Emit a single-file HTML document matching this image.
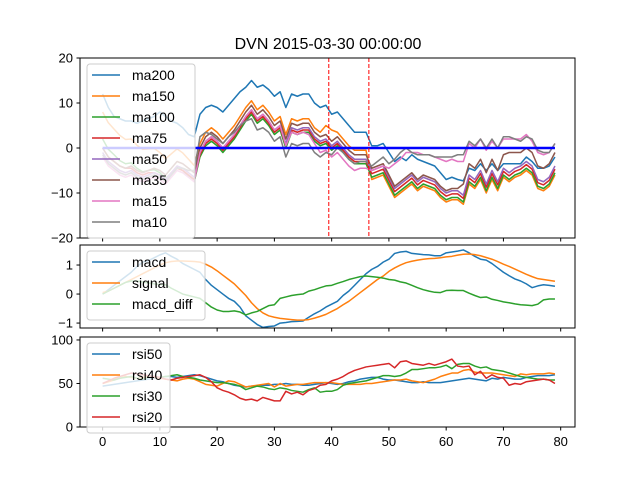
<!DOCTYPE html>
<html><head><meta charset="utf-8"><style>
body{margin:0;background:#fff;}
svg{display:block;font-family:"Liberation Sans","DejaVu Sans",sans-serif;}
</style></head><body>
<svg id="chart" width="640" height="480" viewBox="0 0 640 480" xmlns="http://www.w3.org/2000/svg">
<rect width="640" height="480" fill="#fff"/>
<text x="328" y="49" text-anchor="middle" font-size="16">DVN 2015-03-30 00:00:00</text>
</svg>
<script>
const xs = Array.from({length:80},(_, i)=>i);
const ma200=[12,9,7,6.5,6,6,5.5,6,6.5,7,8,7,6,5.5,4.5,3,2.5,7.5,9,9.5,9,8,9.5,11,12.5,13.5,15,13.5,14,13,11.5,12.5,9,12,11.5,12,12,10,9,9.5,7.5,8,6.5,5,3.5,3.5,3.5,0.5,0.5,1,-1,-3,-2,-2.8,-1.5,-2.5,-3,-3.5,-4,-5.5,-7,-6.5,-7,-7.3,-4.5,-5,-3.5,-5,-3.5,-5,-3.5,-3.5,-3.5,-3.5,-2,-3,-4.5,-4.5,-4,-2];
const ma150=[8,5.6,4.2,2.8,1.9,2,0.6,-0.3,-0.2,-0.1,-1,-2.4,-1.3,-0.2,-1.1,-2.5,-3.9,1,3.5,4.5,3.5,2,3.5,5,7,9,10.5,8.5,9.5,8,6,7,3,6.5,6,6.5,6.5,4.5,3.5,5,4,3.5,2,0.5,-0.5,-0.5,-0.5,-7,-6.5,-6,-8.5,-11,-10,-9,-8,-9.5,-8.5,-9,-9.5,-11,-12,-11.5,-11.5,-12.5,-8,-9,-7,-10,-7,-9.5,-6.5,-7.5,-6.5,-6,-5,-6,-9,-9.5,-8.5,-6];
const ma100=[2,-0.3,-1.5,-2.8,-3.5,-3.3,-4.5,-5.3,-5,-4.8,-5.5,-6.8,-5.5,-4.3,-5,-6.3,-7.5,-2,0.5,1.5,0.5,-1,0.5,2,4,6,7.5,5.5,6.5,5,3,4,0,3.5,3,3.5,3.5,1.5,0.5,1,-0.5,0.5,-1,-2.5,-3.5,-3.5,-3.5,-6.5,-6,-5.5,-8,-10.5,-9.5,-8.5,-7.5,-9,-8,-8.5,-9,-10.5,-11.5,-11,-11,-12,-7.5,-8.5,-6.5,-9.5,-6.5,-9,-6,-7,-6,-5.5,-4.5,-5.5,-8.5,-9,-8,-5.5];
const ma75=[0,-2,-3,-4,-4.5,-4.5,-5.5,-6,-5.5,-5.5,-6,-7,-5.5,-4.5,-5,-6,-7,-1.5,1,2,1,-0.5,1,2.5,4.5,6.5,8,6,7,5.5,3.5,4.5,0.5,4,3.5,4,4,2,1,1.5,0,1,-0.5,-2,-3,-3,-3,-5.7,-5.2,-4.7,-7.2,-9.7,-8.7,-7.7,-6.7,-8.2,-7.2,-7.7,-8.2,-9.7,-10.7,-10.2,-10.2,-11.2,-6.7,-7.7,-5.7,-8.7,-5.7,-8.2,-5.2,-6.2,-5.2,-4.7,-3.7,-4.7,-7.7,-8.2,-7.2,-4.7];
const ma50=[-1,-3,-4,-5,-5.5,-5,-6,-6.5,-6,-5.5,-6,-7,-5.5,-4,-4.5,-5.5,-6.5,-1,1.5,2.5,1.5,0,1.5,3,5,7,8.5,6.5,7.5,6,4,5,1,4.5,4,4.5,4.5,2.5,1.5,2,0.5,1.5,0,-1.5,-2.5,-2.5,-2.5,-5,-4.5,-4,-6.5,-9,-8,-7,-6,-7.5,-6.5,-7,-7.5,-9,-10,-9.5,-9.5,-10.5,-6,-7,-5,-8,-5,-7.5,-4.5,-5.5,-4.5,-4,-3,-4,-7,-7.5,-6.5,-4];
const ma35=[0,-2,-3,-4,-4.5,-4,-5,-5.5,-5,-4.5,-5,-6,-4.5,-3,-3.5,-4.5,-5.5,0,2.5,3.5,2.5,1,2.5,4,6,8,9.5,7.5,8.5,7,5,6,2,5.5,5,5.5,5.5,3.5,2.5,3,1.5,2.5,1,-0.5,-1.5,-1.5,-1.5,-4.5,-4,-3.5,-6,-8.5,-7.5,-6.5,-5.5,-7,-6,-6.5,-7,-8.5,-9.5,-9,-9,-8,-3.5,-4.5,-2.5,-5.5,-2.5,-5,-1.5,-1,-1,-1,0,-1,-4,-4.5,-3.5,-1];
const ma15=[-2,-4,-5,-6,-6.5,-6,-7,-7.5,-7,-6.5,-7,-8,-6.5,-5,-5.5,-6.5,-7.5,-1,1.5,2.5,1.5,0,1.5,3,5,7,8.5,6.5,7.5,6,4,5,0.5,3.5,3,3.5,3,1,-1,-0.5,-2,-1,-2.5,-4,-5,-4.5,-4.5,-5,-4.5,-4,-4.5,-3.5,-2.5,-1,-1,-1,-1.5,-1.5,-2,-2.5,-3,-2.5,-3,-3,1,0,2,-0.5,1.5,0,2,2,2,2,3,1.5,-1,-1.5,-1,1];
const ma10=[-1.5,-3.5,-4.5,-5.5,-6,-5.5,-6.5,-7,-6.5,-6,-6.5,-7.5,-6,-4.5,-4.5,-5,-5,2.5,3.5,3,2,1,2.5,3.5,5,6,6.5,4,4.5,3.5,1.5,2.5,-2,1,0.5,1,1,-1,-2,-1,-1.5,0,-1,-2.5,-3.5,-3,-3,-4,-3,-2,-3.5,-2.5,-1,0,-1,-1.5,-1.5,-1.5,-2,-2,-2,-2,-1.5,-1.5,1.5,0.5,2,0,2,0,2.5,2.5,2,1.5,2.5,2,-0.5,-1,-1,1];
const zeroLine=[0,0];
const vlines=[39.5,46.5];
const macd=[0,0.15,0.3,0.45,0.6,0.75,0.95,1.1,1.15,1.25,1.35,1.42,1.3,1.2,1.05,0.95,0.85,0.75,0.5,0.3,0.15,0,-0.15,-0.25,-0.45,-0.75,-0.9,-1.05,-1.15,-1.12,-1.1,-1,-0.98,-0.95,-0.94,-0.93,-0.8,-0.68,-0.58,-0.45,-0.35,-0.25,-0.05,0.1,0.3,0.5,0.7,0.85,0.95,1.1,1.2,1.4,1.45,1.47,1.4,1.38,1.36,1.35,1.32,1.32,1.42,1.45,1.48,1.52,1.42,1.3,1.2,1.17,1.05,0.9,0.75,0.63,0.52,0.45,0.35,0.22,0.28,0.32,0.3,0.27];
const signal=[0.05,0.1,0.2,0.3,0.4,0.5,0.6,0.7,0.8,0.9,1,1.08,1.12,1.14,1.14,1.13,1.12,1.1,1.03,0.93,0.8,0.65,0.5,0.35,0.15,-0.05,-0.3,-0.5,-0.65,-0.75,-0.8,-0.84,-0.86,-0.88,-0.9,-0.9,-0.88,-0.83,-0.77,-0.7,-0.6,-0.5,-0.37,-0.25,-0.1,0.05,0.2,0.35,0.5,0.62,0.78,0.9,1,1.08,1.13,1.17,1.2,1.22,1.23,1.25,1.28,1.3,1.34,1.37,1.38,1.36,1.32,1.26,1.2,1.12,1.03,0.95,0.86,0.77,0.68,0.6,0.53,0.5,0.47,0.44];
const macdDiff=[0,0.1,0.2,0.3,0.4,0.45,0.45,0.42,0.38,0.35,0.33,0.32,0.2,0.1,0,-0.05,-0.1,-0.15,-0.3,-0.45,-0.55,-0.6,-0.6,-0.58,-0.62,-0.72,-0.65,-0.6,-0.5,-0.4,-0.37,-0.15,-0.1,-0.05,-0.02,0,0.1,0.15,0.22,0.28,0.3,0.37,0.43,0.5,0.55,0.6,0.62,0.6,0.58,0.55,0.5,0.48,0.42,0.38,0.3,0.22,0.15,0.1,0.06,0.05,0.12,0.13,0.12,0.12,0.03,-0.05,-0.12,-0.1,-0.18,-0.22,-0.27,-0.3,-0.34,-0.37,-0.38,-0.4,-0.35,-0.2,-0.17,-0.17];
const rsi50=[47,48,49,50,51,52,53,54,55,56,57,58,58,57,58,59,60,59,57,55,53,52,50,48,47,46,47,47,48,48,49,49,50,49,49,48,48,49,50,51,50,49,50,52,53,55,56,57,57,55,54,54,53,52,51,51,52,51,51,51,52,53,54,55,56,55,54,53,56,55,57,56,55,55,57,58,59,59,59,60];
const rsi40=[50,52,54,56,58,57,56,57,58,57,56,55,54,53,55,56,55,52,49,48,47,50,53,52,49,46,47,48,49,50,46,50,47,48,49,49,50,51,51,51,51,50,49,49,49,49,50,50,51,52,53,54,54,55,53,52,51,53,55,58,60,62,62,65,66,63,62,62,62,61,60,59,58,61,60,61,61,61,62,61];
const rsi30=[56,55,54,56,57,58,56,55,57,58,57,58,59,60,58,57,56,54,53,52,51,51,50,49,47,43,45,47,46,44,43,45,44,42,41,40,43,45,40,41,41,43,48,50,51,52,53,55,57,59,59,58,59,62,66,66,67,68,68,69,71,67,72,73,73,70,68,69,66,65,64,62,60,58,57,56,55,55,54,54];
const rsi20=[50,53,56,58,60,62,61,60,59,58,57,55,54,56,57,58,59,60,57,52,45,42,40,37,33,31,32,30,34,32,30,30,41,38,40,37,42,44,48,49,53,55,58,62,65,67,69,70,71,72,73,68,75,76,73,72,71,73,71,73,75,78,70,69,70,60,64,56,60,57,56,48,50,49,52,53,54,55,54,50];
const xTicks=[0,10,20,30,40,50,60,70,80];
const topTicks=[-20,-10,0,10,20];
const macdTicks=[-1,0,1];
const rsiTicks=[0,50,100];

const NS='http://www.w3.org/2000/svg';
const svg=document.getElementById('chart');
function el(tag,attrs,parent){const e=document.createElementNS(NS,tag);for(const k in attrs)e.setAttribute(k,attrs[k]);(parent||svg).appendChild(e);return e;}
const X0=80,X1=575,XMIN=-3.95,XMAX=82.5;
function xs2px(v){return X0+(v-XMIN)/(XMAX-XMIN)*(X1-X0);}

function panel(name,top,bot,ymin,ymax,ticks,series,legend,showX){
  const g=el('g',{});
  
  
  const y=v=>bot-(v-ymin)/(ymax-ymin)*(bot-top);
  const clip=el('clipPath',{id:'clip-'+name},g);
  el('rect',{x:X0,y:top,width:X1-X0,height:bot-top},clip);
  const plot=el('g',{'clip-path':'url(#clip-'+name+')'},g);
  series.forEach(s=>{
    const xv=s.x||xs;
    const d=s.data.map((v,i)=>(i?'L':'M')+xs2px(xv[i]).toFixed(2)+','+y(v).toFixed(2)).join('');
    const p=el('path',{d:d,fill:'none',stroke:s.color,'stroke-width':s.w||1.5,'stroke-linejoin':'round'},plot);
    
    
  });
  (legend.extra||[]).forEach(f=>f(plot,y));
  el('rect',{x:X0,y:top,width:X1-X0,height:bot-top,fill:'none',stroke:'#000','stroke-width':1},g);
  ticks.forEach(t=>{
    const ty=y(t);
    el('line',{x1:X0-3.5,x2:X0,y1:ty,y2:ty,stroke:'#000'},g);
    const tx=el('text',{x:X0-7,y:ty+4.5,'text-anchor':'end','font-size':13},g);
    tx.textContent=String(t).replace('-','\u2212');
    
    
  });
  xTicks.forEach(t=>{
    const tx0=xs2px(t);
    el('line',{x1:tx0,x2:tx0,y1:bot,y2:bot+3.5,stroke:'#000'},g);
    if(showX){
      const tx=el('text',{x:tx0,y:bot+19,'text-anchor':'middle','font-size':13},g);
      tx.textContent=t;
      
      
    }
  });
  const lg=el('g',{},g);
  
  
  const n=legend.items.length;
  el('rect',{x:X0+7,y:top+6,width:legend.w,height:n*21+6,rx:3,fill:'#fff','fill-opacity':0.8,stroke:'#ccc'},lg);
  legend.items.forEach((s,i)=>{
    const cy=top+17+i*21;
    el('line',{x1:X0+12,x2:X0+40,y1:cy,y2:cy,stroke:s.color,'stroke-width':1.5},lg);
    const t=el('text',{x:X0+52,y:cy+5,'font-size':14},lg);
    t.textContent=s.label;
    
    
  });
}

const maSeries=[
 {label:'ma200',data:ma200,color:'#1f77b4'},
 {label:'ma150',data:ma150,color:'#ff7f0e'},
 {label:'ma100',data:ma100,color:'#2ca02c'},
 {label:'ma75',data:ma75,color:'#d62728'},
 {label:'ma50',data:ma50,color:'#9467bd'},
 {label:'ma35',data:ma35,color:'#8c564b'},
 {label:'ma15',data:ma15,color:'#e377c2'},
 {label:'ma10',data:ma10,color:'#7f7f7f'}];
panel('ma',58,238,-20,20,topTicks,
 maSeries.concat([{label:'zero',data:zeroLine,x:[0,79],color:'#0000ff',w:2.5}]),
 {items:maSeries,w:108,extra:[(p,y)=>{vlines.forEach(v=>{
   const l=el('line',{x1:xs2px(v),x2:xs2px(v),y1:58,y2:238,stroke:'#ff0000','stroke-width':1,'stroke-dasharray':'4,2'},p);
   
   
 });}]},false);
const macdSeries=[
 {label:'macd',data:macd,color:'#1f77b4'},
 {label:'signal',data:signal,color:'#ff7f0e'},
 {label:'macd_diff',data:macdDiff,color:'#2ca02c'}];
panel('macd',245,328,-1.17,1.69,macdTicks,macdSeries,{items:macdSeries,w:118},false);
const rsiSeries=[
 {label:'rsi50',data:rsi50,color:'#1f77b4'},
 {label:'rsi40',data:rsi40,color:'#ff7f0e'},
 {label:'rsi30',data:rsi30,color:'#2ca02c'},
 {label:'rsi20',data:rsi20,color:'#d62728'}];
panel('rsi',337,427,0,103.4,rsiTicks,rsiSeries,{items:rsiSeries,w:83},true);
</script>
</body></html>
